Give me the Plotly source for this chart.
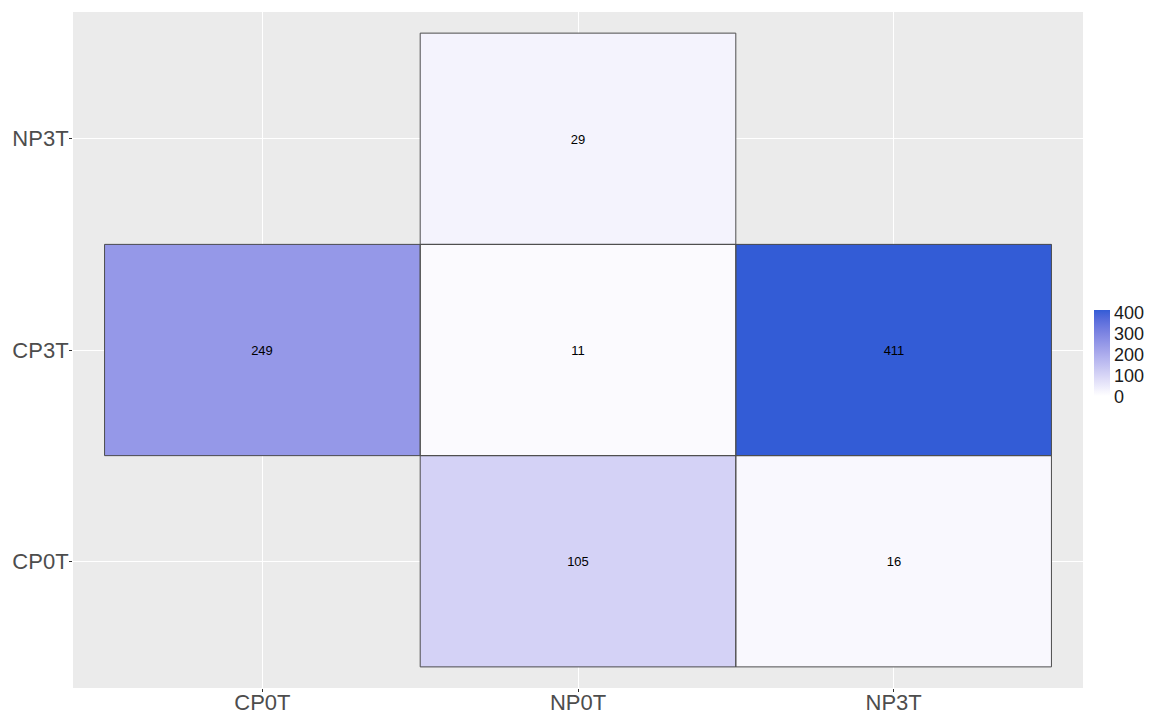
import plotly.graph_objects as go

# Comparison groups and the number of shared features for each pair
x_labels = ["CP0T", "NP0T", "NP3T"]
y_labels = ["CP0T", "CP3T", "NP3T"]

pair_x = ["NP0T", "NP3T", "CP0T", "NP0T", "NP3T", "NP0T"]
pair_y = ["CP0T", "CP0T", "CP3T", "CP3T", "CP3T", "NP3T"]
counts = [105, 16, 249, 11, 411, 29]

colorbar_ticks = [0, 100, 200, 300, 400]

LOW_COLOR = "#FFFFFF"
HIGH_COLOR = "#335CD6"


# --- colour gradient interpolated in CIELAB space ---------------------------
def _hex_to_rgb(h):
    h = h.lstrip("#")
    return [int(h[i:i + 2], 16) / 255.0 for i in (0, 2, 4)]


def _lin(c):
    return c / 12.92 if c <= 0.04045 else ((c + 0.055) / 1.055) ** 2.4


def _delin(c):
    c = max(0.0, min(1.0, c))
    return 12.92 * c if c <= 0.0031308 else 1.055 * c ** (1 / 2.4) - 0.055


WHITE = (0.95047, 1.0, 1.08883)


def _rgb_to_lab(rgb):
    r, g, b = (_lin(c) for c in rgb)
    X = 0.4124 * r + 0.3576 * g + 0.1805 * b
    Y = 0.2126 * r + 0.7152 * g + 0.0722 * b
    Z = 0.0193 * r + 0.1192 * g + 0.9505 * b

    def f(t):
        return t ** (1 / 3) if t > 0.008856 else 7.787 * t + 16 / 116

    fx, fy, fz = f(X / WHITE[0]), f(Y / WHITE[1]), f(Z / WHITE[2])
    return (116 * fy - 16, 500 * (fx - fy), 200 * (fy - fz))


def _lab_to_hex(lab):
    L, a, b = lab
    fy = (L + 16) / 116
    fx = fy + a / 500
    fz = fy - b / 200

    def finv(t):
        return t ** 3 if t ** 3 > 0.008856 else (t - 16 / 116) / 7.787

    X, Y, Z = finv(fx) * WHITE[0], finv(fy) * WHITE[1], finv(fz) * WHITE[2]
    r = 3.2406 * X - 1.5372 * Y - 0.4986 * Z
    g = -0.9689 * X + 1.8758 * Y + 0.0415 * Z
    bb = 0.0557 * X - 0.2040 * Y + 1.0570 * Z
    return "#%02x%02x%02x" % tuple(round(_delin(c) * 255) for c in (r, g, bb))


lab_lo = _rgb_to_lab(_hex_to_rgb(LOW_COLOR))
lab_hi = _rgb_to_lab(_hex_to_rgb(HIGH_COLOR))
n_stops = 16
colorscale = []
for i in range(n_stops + 1):
    t = i / n_stops
    lab = tuple(lo + (hi - lo) * t for lo, hi in zip(lab_lo, lab_hi))
    colorscale.append([t, _lab_to_hex(lab)])

# --- build the 3x3 grid (empty where a pair has no value) -------------------
z = [[None for _ in x_labels] for _ in y_labels]
for px, py, c in zip(pair_x, pair_y, counts):
    z[y_labels.index(py)][x_labels.index(px)] = c

fig = go.Figure()
fig.add_trace(
    go.Heatmap(
        x=x_labels,
        y=y_labels,
        z=z,
        zmin=0,
        zmax=max(counts),
        colorscale=colorscale,
        texttemplate="%{z}",
        textfont=dict(size=13, color="#000000", family="Liberation Sans"),
        hoverongaps=False,
        colorbar=dict(
            tickvals=colorbar_ticks,
            ticks="",
            thickness=16,
            lenmode="pixels",
            len=86,
            x=1.0109,
            xanchor="left",
            xpad=0,
            y=0.495,
            yanchor="middle",
            ypad=0,
            outlinewidth=0,
            tickfont=dict(size=18, color="#1a1a1a", family="Liberation Sans"),
        ),
    )
)

# Tile outlines
for px, py in zip(pair_x, pair_y):
    xi = x_labels.index(px)
    yi = y_labels.index(py)
    fig.add_shape(
        type="rect",
        xref="x", yref="y",
        x0=xi - 0.5, x1=xi + 0.5,
        y0=yi - 0.5, y1=yi + 0.5,
        line=dict(color="#4d4d4d", width=1),
        fillcolor="rgba(0,0,0,0)",
        layer="above",
    )

axis_style = dict(
    type="category",
    showgrid=True,
    gridcolor="#FFFFFF",
    gridwidth=1,
    zeroline=False,
    showline=False,
    ticks="outside",
    ticklen=3,
    tickwidth=1,
    tickcolor="#333333",
    tickfont=dict(size=22, color="#4d4d4d", family="Liberation Sans"),
    automargin=False,
)

fig.update_xaxes(**axis_style, categoryorder="array", categoryarray=x_labels,
                 range=[-0.6, 2.6], ticklabelstandoff=-8)
fig.update_yaxes(**axis_style, categoryorder="array", categoryarray=y_labels,
                 range=[-0.6, 2.6], ticklabelstandoff=-4)

fig.update_layout(
    width=1152,
    height=714,
    margin=dict(l=73, r=66, t=12, b=26),
    paper_bgcolor="#FFFFFF",
    plot_bgcolor="#EBEBEB",
    font=dict(family="Liberation Sans"),
)

fig.write_html("out.html")
